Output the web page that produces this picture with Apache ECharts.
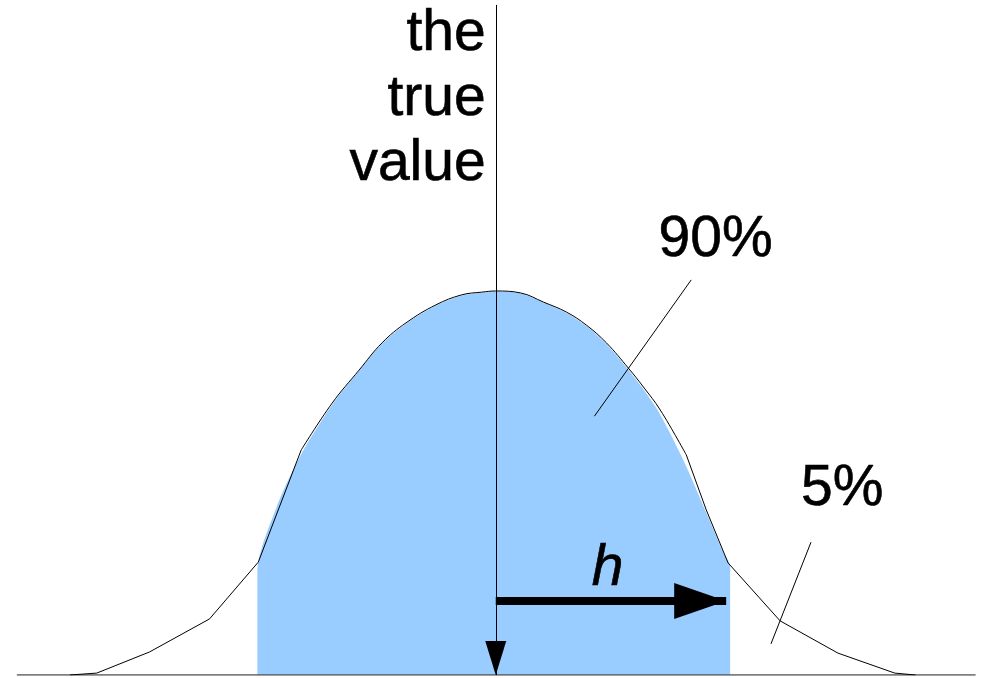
<!DOCTYPE html>
<html>
<head>
<meta charset="utf-8">
<script src="https://cdn.jsdelivr.net/npm/echarts@6/dist/echarts.min.js"></script>
<style>
  html, body { margin: 0; padding: 0; background: #fff; }
  #chart { width: 988px; height: 678px; }
</style>
</head>
<body>
<div id="chart"></div>
<script>
// x in units of h (distance from the true value), y relative to the peak height
// outline: straight tails and a smooth central hump
const leftTailX = [-1.817, -1.702, -1.477, -1.221, -1.013, -0.830];
const leftTailY = [0, 0.005, 0.060, 0.146, 0.294, 0.586];
const humpX = [-0.830, -0.698, -0.583, -0.485, -0.383, -0.255, -0.145, -0.060, 0,
  0.106, 0.204, 0.302, 0.387, 0.472, 0.566, 0.630, 0.702, 0.813];
const humpY = [0.586, 0.708, 0.794, 0.865, 0.917, 0.964, 0.990, 0.997, 1,
  0.995, 0.971, 0.945, 0.911, 0.865, 0.799, 0.750, 0.690, 0.573];
const rightTailX = [0.813, 0.898, 0.991, 1.213, 1.460, 1.702, 1.791];
const rightTailY = [0.573, 0.430, 0.292, 0.141, 0.057, 0.005, 0];

// shaded 90% region
const fillX = [-1.017, -1.017, -0.94, -0.83, -0.698, -0.583, -0.485, -0.383, -0.255, -0.145, -0.060, 0,
  0.106, 0.204, 0.302, 0.387, 0.472, 0.566, 0.630, 0.700, 0.800, 0.900, 0.970, 1.0, 1.0];
const fillY = [0, 0.266, 0.43, 0.575, 0.704, 0.792, 0.863, 0.915, 0.962, 0.988, 0.996, 0.999,
  0.994, 0.970, 0.943, 0.909, 0.862, 0.795, 0.744, 0.680, 0.560, 0.420, 0.320, 0.281, 0];

// baseline
const baseX = [-2.043, 2.047];
const baseY = [0, 0];

// the true value marker and the h arrow
const trueValueLine = [[0, 1.745], [0, 0]];
const hArrow = [[0, 0.193], [0.983, 0.193]];

// leader lines for the labels
const leader90 = [[0.834, 1.029], [0.421, 0.674]];
const leader5 = [[1.345, 0.346], [1.174, 0.081]];

// text labels
const labelText = ['the\ntrue\nvalue', '90%', '5%', 'h'];
const labelX = [-0.043, 0.938, 1.478, 0.477];
const labelY = [1.500, 1.133, 0.483, 0.276];

const zip = (xs, ys) => xs.map((x, i) => [x, ys[i]]);

function outline(name, xs, ys, smooth) {
  return {
    name: name,
    type: 'line',
    data: zip(xs, ys),
    smooth: smooth,
    showSymbol: false,
    silent: true,
    lineStyle: { color: '#000', width: 1 },
    z: 3
  };
}

let myChart = echarts.init(document.getElementById('chart'));

let option = {
  animation: false,
  grid: { left: 3.5, width: 987, top: 3, height: 672 },
  xAxis: {
    type: 'value', min: -2.1, max: 2.1,
    show: false, splitLine: { show: false }
  },
  yAxis: {
    type: 'value', min: 0, max: 1.75,
    show: false, splitLine: { show: false }
  },
  series: [
    {
      name: 'fill',
      type: 'line',
      data: zip(fillX, fillY),
      smooth: 0.3,
      showSymbol: false,
      silent: true,
      lineStyle: { width: 0 },
      areaStyle: { color: '#99ccff', opacity: 1 },
      z: 1
    },
    {
      name: 'baseline',
      type: 'line',
      data: zip(baseX, baseY),
      showSymbol: false,
      silent: true,
      lineStyle: { color: '#555', width: 1.5 },
      z: 2
    },
    outline('leftTail', leftTailX, leftTailY, false),
    outline('hump', humpX, humpY, 0.4),
    outline('rightTail', rightTailX, rightTailY, false),
    {
      name: 'marks',
      type: 'line',
      data: [],
      z: 4,
      markLine: {
        silent: true,
        animation: false,
        label: { show: false },
        emphasis: { disabled: true },
        symbol: 'none',
        data: [
          [
            { coord: trueValueLine[0], symbol: 'none' },
            { coord: trueValueLine[1], symbol: 'triangle', symbolSize: [21, 34], symbolOffset: [0, 17] }
          ],
          [
            { coord: hArrow[0], symbol: 'none', lineStyle: { width: 8, color: '#000', type: 'solid', cap: 'butt' } },
            { coord: hArrow[1], symbol: 'triangle', symbolSize: [36, 52], symbolOffset: [0, 26] }
          ],
          [{ coord: leader90[0] }, { coord: leader90[1] }],
          [{ coord: leader5[0] }, { coord: leader5[1] }]
        ],
        lineStyle: { color: '#000', width: 1, type: 'solid' }
      }
    },
    {
      name: 'labels',
      type: 'scatter',
      symbolSize: 0,
      silent: true,
      z: 5,
      itemStyle: { opacity: 1 },
      data: labelText.map((t, i) => ({
        value: [labelX[i], labelY[i]],
        name: t,
        label: {
          align: i === 0 ? 'right' : 'center',
          fontStyle: t === 'h' ? 'italic' : 'normal'
        }
      })),
      label: {
        show: true,
        position: [0, 0],
        formatter: p => p.name,
        verticalAlign: 'middle',
        color: '#000',
        opacity: 1,
        textBorderColor: '#000',
        textBorderWidth: 0.6,
        fontFamily: 'Liberation Sans',
        fontSize: 57,
        lineHeight: 65
      }
    }
  ]
};

myChart.setOption(option);
</script>
</body>
</html>
